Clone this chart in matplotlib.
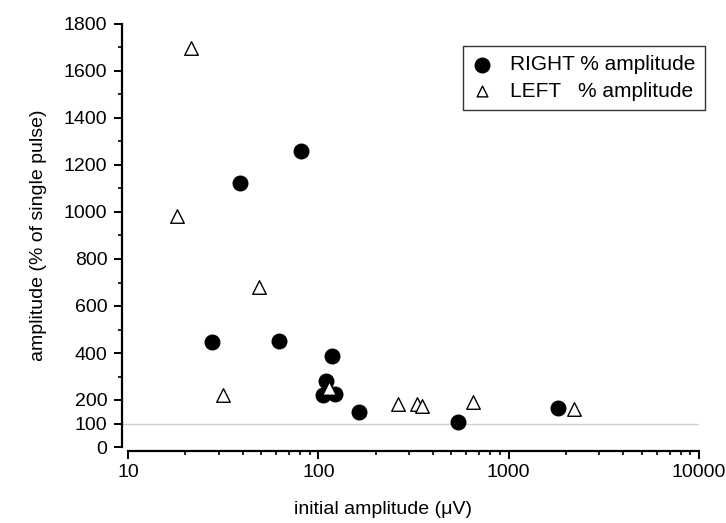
import matplotlib
matplotlib.use("Agg")
import matplotlib.pyplot as plt
from matplotlib.ticker import FixedLocator, NullFormatter

plt.rcParams['font.family'] = ['Liberation Sans', 'DejaVu Sans']

# Data
right_x = [27.5, 38.8, 62.4, 81.1, 106.2, 109.4, 118.6, 122.4, 164, 545, 1824]
right_y = [446, 1122, 451, 1261, 221, 281, 388, 225, 148, 108, 165]
left_x = [18.0, 21.3, 31.5, 49.0, 113.7, 263, 329, 349, 647, 2208]
left_y = [983, 1696, 221, 680, 250, 183, 183, 176, 193, 162]

y_major = [0, 100, 200, 400, 600, 800, 1000, 1200, 1400, 1600, 1800]
y_minor = [300, 500, 700, 900, 1100, 1300, 1500, 1700]
x_major = [10, 100, 1000, 10000]
x_labels = ["10", "100", "1000", "10000"]
ref_level = 100

fig = plt.figure(figsize=(7.26, 5.23), dpi=100)
ax = fig.add_axes([122/726, 76/523, (699-122)/726, (499-76)/523])

ax.set_xscale('log')
ax.set_xlim(9.3, 10000)
ax.set_ylim(0, 1800)

ax.axhline(ref_level, color='#cfcfcf', lw=1.0, zorder=1)

ax.scatter(right_x, right_y, s=110, marker='o', facecolor='black',
           edgecolor='black', zorder=3, label='RIGHT % amplitude')
ax.scatter(left_x, left_y, s=95, marker='^', facecolor='white',
           edgecolor='black', linewidths=1.0, zorder=4, label='LEFT   % amplitude')

for s in ['top', 'right']:
    ax.spines[s].set_visible(False)
ax.spines['left'].set_bounds(0, 1800)
ax.spines['bottom'].set_bounds(10, 10000)
ax.spines['bottom'].set_position(('outward', 3))
ax.spines['left'].set_linewidth(1.6)
ax.spines['bottom'].set_linewidth(1.6)

ax.yaxis.set_major_locator(FixedLocator(y_major))
ax.yaxis.set_minor_locator(FixedLocator(y_minor))
ax.xaxis.set_major_locator(FixedLocator(x_major))
ax.set_xticklabels(x_labels)
ax.xaxis.set_minor_formatter(NullFormatter())

ax.tick_params(axis='both', which='major', direction='out', length=5.5,
               width=1.4, labelsize=14, colors='black')
ax.tick_params(axis='both', which='minor', direction='out', length=2.8,
               width=1.2)
ax.tick_params(axis='x', which='major', pad=4)
ax.tick_params(axis='y', which='major', pad=5)

ax.set_ylabel('amplitude (% of single pulse)', fontsize=14, labelpad=12)
ax.set_xlabel('initial amplitude (\u03bcV)', fontsize=14)
ax.xaxis.set_label_coords(0.452, -0.127)

leg = ax.legend(loc='upper right', bbox_to_anchor=(1.01, 0.948), fontsize=15,
                frameon=True, fancybox=False, edgecolor='black',
                handletextpad=0.9, borderpad=0.45, labelspacing=0.35,
                handlelength=0.9, borderaxespad=0)
leg.get_frame().set_linewidth(1.0)
leg.legend_handles[1].set_sizes([60])

fig.savefig('out.png', dpi=100, facecolor='white')
